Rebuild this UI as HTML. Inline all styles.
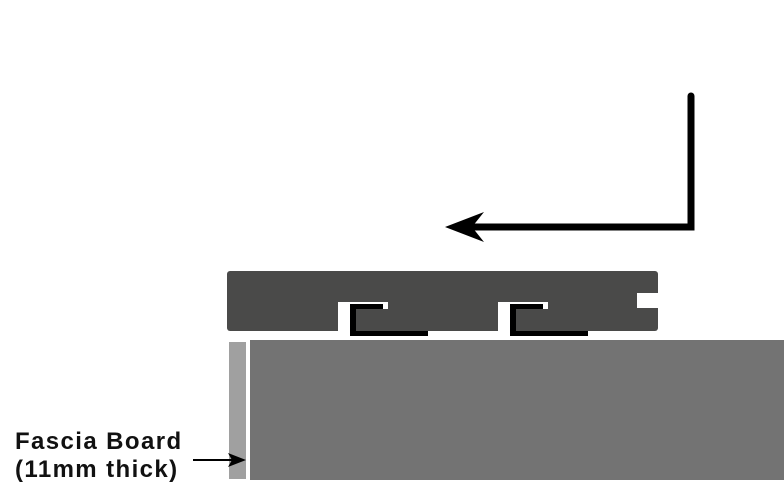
<!DOCTYPE html>
<html><head><style>
body{margin:0;width:784px;height:496px;background:#fff;overflow:hidden;position:relative;font-family:"Liberation Sans",sans-serif}
.t{position:absolute;left:15px;font-size:24px;font-weight:bold;color:#111;line-height:28px;letter-spacing:1.4px}
</style></head><body>
<svg width="784" height="496" style="position:absolute;left:0;top:0">
<polyline points="691,96 691,227 475,227" fill="none" stroke="#000" stroke-width="7" stroke-linecap="round"/>
<polygon points="445,227 484,212 472,227 484,242" fill="#000"/>
<rect x="227" y="271" width="431" height="60" rx="3" fill="#4a4a49"/>
<rect x="637" y="293" width="22" height="15" fill="#fff"/>
<rect x="338" y="302" width="50" height="30" fill="#fff"/>
<rect x="338" y="311" width="90" height="21" fill="#fff"/>
<rect x="350" y="304" width="6" height="32" fill="#000"/>
<rect x="350" y="304" width="33" height="5" fill="#000"/>
<rect x="350" y="331" width="78" height="5" fill="#000"/>
<rect x="356" y="309" width="72" height="22" fill="#4a4a49"/>
<rect x="498" y="302" width="50" height="30" fill="#fff"/>
<rect x="498" y="311" width="90" height="21" fill="#fff"/>
<rect x="510" y="304" width="6" height="32" fill="#000"/>
<rect x="510" y="304" width="33" height="5" fill="#000"/>
<rect x="510" y="331" width="78" height="5" fill="#000"/>
<rect x="516" y="309" width="72" height="22" fill="#4a4a49"/>
<rect x="229" y="342" width="17" height="137" fill="#a0a0a0"/>
<rect x="250" y="340" width="534" height="140" fill="#737373"/>
<line x1="193" y1="460" x2="232" y2="460" stroke="#000" stroke-width="2"/>
<polygon points="246,460 228,453 232,460 228,467" fill="#000"/>
</svg>
<div class="t" style="top:428px">Fascia Board</div>
<div class="t" style="top:456px">(11mm thick)</div>
</body></html>
